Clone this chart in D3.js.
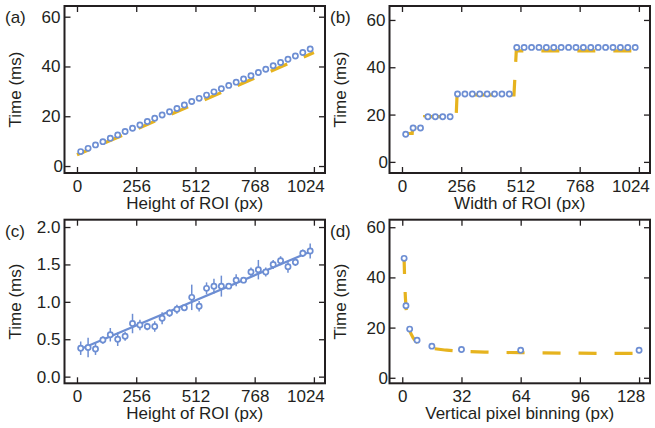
<!DOCTYPE html>
<html>
<head>
<meta charset="utf-8">
<script src="https://cdn.jsdelivr.net/npm/d3@7"></script>
<style>
	body { margin: 0; background: #fff; }
	svg text { font-family: "Liberation Sans", Arial, Helvetica, sans-serif; fill: #231f20; }
</style>
</head>
<body>
<svg id="fig" width="655" height="428"></svg>
<script>
// ROI sizes sampled in (a), (b), (c)
const roiSize = [16, 48, 80, 112, 144, 176, 208, 240, 272, 304, 336, 368, 400, 432, 464, 496,
	528, 560, 592, 624, 656, 688, 720, 752, 784, 816, 848, 880, 912, 944, 976, 1008];

// (a) time vs height of ROI
const timeHeight = [5.8, 7.1, 8.5, 9.8, 11.2, 12.5, 13.9, 15.2, 16.5, 17.9, 19.2, 20.5, 21.8, 23.1, 24.5, 25.9,
	27.2, 28.5, 29.8, 31.1, 32.4, 33.7, 35.0, 36.3, 37.6, 38.9, 40.3, 41.6, 42.9, 44.2, 45.6, 47.0];
const modelHeightX = [0, 1024];
const modelHeightY = [4.5, 45.6];

// (b) time vs width of ROI
const timeWidth = [11.7, 14.3, 14.3, 19.1, 19.1, 19.1, 19.1, 28.7, 28.7, 28.7, 28.7, 28.7, 28.7, 28.7, 28.7, 48.4,
	48.4, 48.4, 48.4, 48.4, 48.4, 48.4, 48.4, 48.4, 48.4, 48.4, 48.4, 48.4, 48.4, 48.4, 48.4, 48.4];
const modelWidthX = [8, 44, 46, 96, 98, 234, 238, 484, 494, 1024];
const modelWidthY = [12.0, 12.0, 14.5, 14.5, 19.1, 19.1, 28.3, 28.3, 46.9, 46.9];

// (c) time vs height of ROI, with error bars and linear fit
const timeSmall = [0.38, 0.39, 0.37, 0.49, 0.56, 0.50, 0.54, 0.71, 0.69, 0.67, 0.67, 0.78, 0.85, 0.90, 0.92, 1.06,
	0.94, 1.18, 1.21, 1.21, 1.21, 1.29, 1.29, 1.40, 1.43, 1.40, 1.50, 1.55, 1.47, 1.53, 1.65, 1.68];
const errSmall = [0.09, 0.13, 0.08, 0.05, 0.09, 0.09, 0.06, 0.13, 0.07, 0.05, 0.07, 0.08, 0.05, 0.06, 0.03, 0.17,
	0.07, 0.08, 0.10, 0.14, 0.04, 0.08, 0.04, 0.06, 0.13, 0.06, 0.06, 0.06, 0.08, 0.05, 0.05, 0.10];
const fitX = [16, 1008];
const fitY = [0.37, 1.67];

// (d) time vs vertical pixel binning
const binning = [1, 2, 4, 8, 16, 32, 64, 128];
const timeBinning = [47.6, 28.7, 19.4, 15.0, 12.6, 11.3, 11.0, 11.0];
const modelBinX = [1, 1.5, 2, 3, 4, 6, 8, 12, 16, 24, 32, 48, 64, 96, 128];
const modelBinY = [47.0, 35.0, 28.5, 22.2, 19.0, 15.8, 14.2, 12.6, 11.8, 11.0, 10.6, 10.2, 10.0, 9.8, 9.7];

// tick labels
const ticksRoi = [0, 256, 512, 768, 1024];
const ticksBin = [0, 32, 64, 96, 128];
const ticksTime = [0, 20, 40, 60];
const ticksSmall = [0.0, 0.5, 1.0, 1.5, 2.0];

const BLUE = "#6d8ed3";
const GOLD = "#e6b31e";
const INK = "#231f20";
const FS = 17;

const svg = d3.select("#fig");

function panel(o) {
	const g = svg.append("g");
	const x = d3.scaleLinear().domain(o.xDom).range([o.left, o.right]);
	const y = d3.scaleLinear().domain(o.yDom).range([o.bottom, o.top]);

	const style = sel => {
		sel.select(".domain").remove();
		sel.selectAll(".tick line").attr("stroke", INK).attr("stroke-width", 1.3);
		sel.selectAll(".tick text").attr("font-size", FS).attr("fill", INK);
	};

	const bottom = g.append("g").attr("transform", `translate(0,${o.bottom})`)
		.call(d3.axisBottom(x).tickValues(o.xTicks).tickSizeInner(-6).tickSizeOuter(0).tickPadding(6.5).tickFormat(d3.format("d")))
		.call(style);
	// last label sits pulled in toward the frame, like the original
	bottom.selectAll(".tick text").filter((d, i, n) => i === n.length - 1).attr("dx", -8.5);

	g.append("g").attr("transform", `translate(0,${o.top})`)
		.call(d3.axisTop(x).tickValues(o.xTicks).tickSizeInner(-6).tickSizeOuter(0).tickFormat(""))
		.call(style);
	const left = g.append("g").attr("transform", `translate(${o.left},0)`)
		.call(d3.axisLeft(y).tickValues(o.yTicks).tickSizeInner(-6).tickSizeOuter(0).tickPadding(4).tickFormat(o.yFmt))
		.call(style);
	if (o.yFmt === fmtInt) left.selectAll(".tick text").filter(d => d === 0).attr("dx", 2.5);

	g.append("g").attr("transform", `translate(${o.right},0)`)
		.call(d3.axisRight(y).tickValues(o.yTicks).tickSizeInner(-6).tickSizeOuter(0).tickFormat(""))
		.call(style);

	g.append("rect")
		.attr("x", o.left).attr("y", o.top)
		.attr("width", o.right - o.left).attr("height", o.bottom - o.top)
		.attr("fill", "none").attr("stroke", INK).attr("stroke-width", 2);

	g.append("text")
		.attr("x", (o.left + o.right) / 2).attr("y", o.bottom + 36)
		.attr("text-anchor", "middle").attr("font-size", FS)
		.text(o.xTitle);
	g.append("text")
		.attr("transform", `translate(${o.left - 43.5},${(o.top + o.bottom) / 2}) rotate(-90)`)
		.attr("text-anchor", "middle").attr("font-size", FS)
		.text("Time (ms)");
	g.append("text")
		.attr("x", o.left - 59.5).attr("y", o.top + 17)
		.attr("font-size", FS)
		.text(o.tag);

	return {g, x, y};
}

function dashed(p, xs, ys, curve, offset) {
	const line = d3.line().x(d => p.x(d[0])).y(d => p.y(d[1])).curve(curve || d3.curveLinear);
	p.g.append("path")
		.datum(d3.zip(xs, ys))
		.attr("d", line)
		.attr("fill", "none").attr("stroke", GOLD).attr("stroke-width", 3.2)
		.attr("stroke-dasharray", "18,18").attr("stroke-dashoffset", offset || 0);
}

function rings(p, xs, ys) {
	p.g.append("g").selectAll("circle")
		.data(d3.zip(xs, ys))
		.join("circle")
		.attr("cx", d => p.x(d[0])).attr("cy", d => p.y(d[1]))
		.attr("r", 2.6)
		.attr("fill", "#fff").attr("stroke", BLUE).attr("stroke-width", 1.7);
}

const fmtInt = d3.format("d");
const fmt1 = d3.format(".1f");

// (a)
const pa = panel({left: 64.5, right: 325, top: 6, bottom: 173, xDom: [-54, 1072], yDom: [-2.8, 64.3],
	xTicks: ticksRoi, yTicks: ticksTime, yFmt: fmtInt, xTitle: "Height of ROI (px)", tag: "(a)"});
dashed(pa, modelHeightX, modelHeightY, null, 5);
rings(pa, roiSize, timeHeight);

// (b)
const pb = panel({left: 389.5, right: 650, top: 6, bottom: 173, xDom: [-54, 1072], yDom: [-4.7, 65.9],
	xTicks: ticksRoi, yTicks: ticksTime, yFmt: fmtInt, xTitle: "Width of ROI (px)", tag: "(b)"});
dashed(pb, modelWidthX, modelWidthY, null, 0);
rings(pb, roiSize, timeWidth);

// (c)
const pc = panel({left: 64.5, right: 325, top: 219.7, bottom: 383.3, xDom: [-54, 1072], yDom: [-0.089, 2.098],
	xTicks: ticksRoi, yTicks: ticksSmall, yFmt: fmt1, xTitle: "Height of ROI (px)", tag: "(c)"});
pc.g.append("g").selectAll("line")
	.data(d3.zip(roiSize, timeSmall, errSmall))
	.join("line")
	.attr("x1", d => pc.x(d[0])).attr("x2", d => pc.x(d[0]))
	.attr("y1", d => pc.y(d[1] - d[2])).attr("y2", d => pc.y(d[1] + d[2]))
	.attr("stroke", BLUE).attr("stroke-width", 1.5);
pc.g.append("path")
	.datum(d3.zip(fitX, fitY))
	.attr("d", d3.line().x(d => pc.x(d[0])).y(d => pc.y(d[1])))
	.attr("fill", "none").attr("stroke", BLUE).attr("stroke-width", 2.2);
rings(pc, roiSize, timeSmall);

// (d)
const pd = panel({left: 389.5, right: 650, top: 219.7, bottom: 383.3, xDom: [-6.9, 133.9], yDom: [-2.2, 63],
	xTicks: ticksBin, yTicks: ticksTime, yFmt: fmtInt, xTitle: "Vertical pixel binning (px)", tag: "(d)"});
dashed(pd, modelBinX, modelBinY, d3.curveMonotoneX, 4);
rings(pd, binning, timeBinning);
</script>
</body>
</html>
